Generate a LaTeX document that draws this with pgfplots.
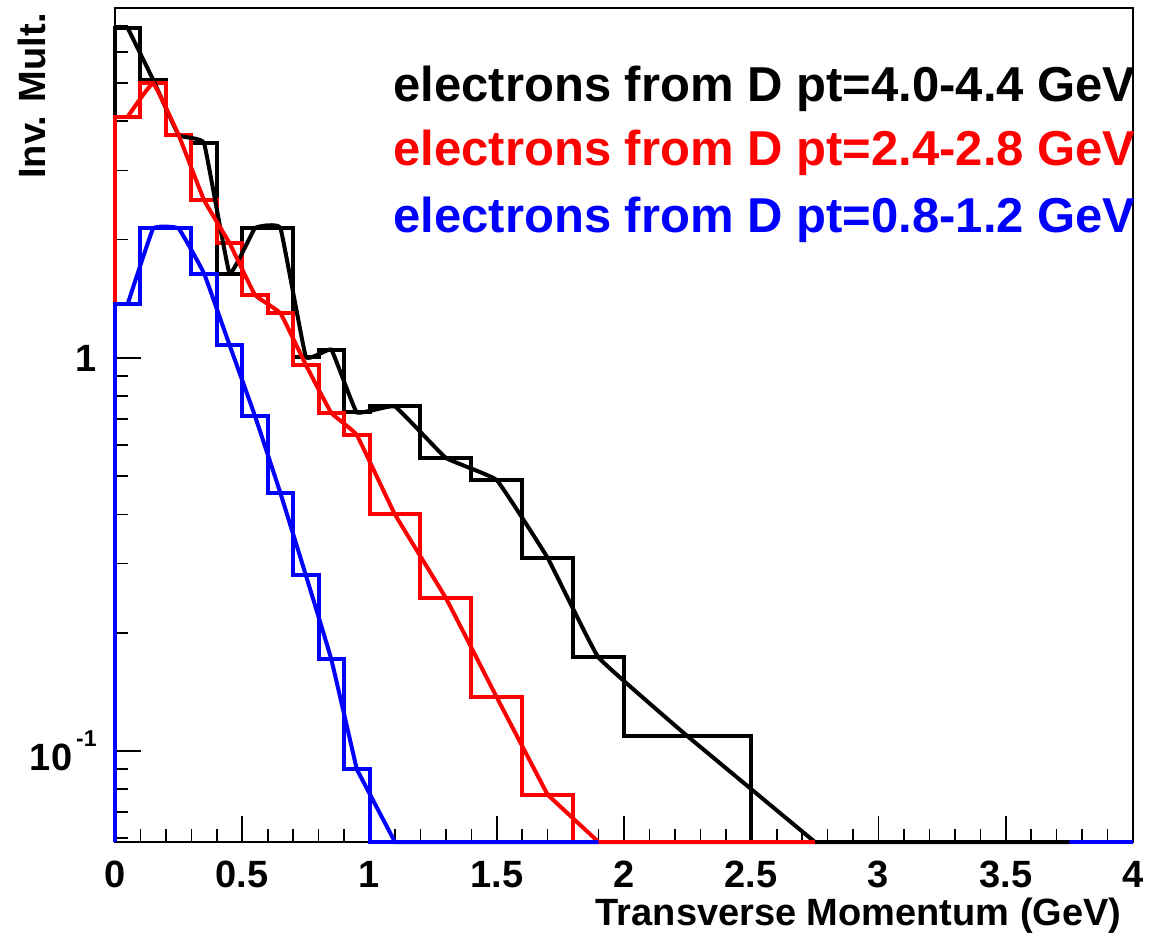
\documentclass[border=0pt]{standalone}
\usepackage{fontspec}
\setmainfont{Liberation Sans}
\usepackage{pgfplots}
\pgfplotsset{compat=1.18}

\definecolor{rootred}{RGB}{255,0,0}
\definecolor{rootblue}{RGB}{0,0,255}

\pgfplotsset{
  hist/.style={const plot mark left, line width=2pt, line join=miter, no marks},
  fit/.style={smooth, tension=0.15, line width=2pt, no marks},
  tail/.style={sharp plot, line width=2pt, no marks},
}

\begin{document}
\begin{tikzpicture}
\useasboundingbox (0,0) rectangle (578pt,467.5pt);
\begin{axis}[
  at={(57.5pt,46.5pt)}, anchor=south west,
  scale only axis, width=509pt, height=417pt,
  xmin=0, xmax=4,
  ymode=log, ymin=0.0587, ymax=7.77,
  clip=false,
  axis line style={line width=1pt},
  tick align=inside, tick pos=left,
  xtick={0,0.5,1,1.5,2,2.5,3,3.5,4},
  xticklabels={0,0.5,1,1.5,2,2.5,3,3.5,4},
  minor x tick num=4,
  ytick={0.1,1},
  yticklabels={10\hspace{2pt}\raisebox{12pt}{\fontsize{11.5}{11.5}\selectfont -1},1\hspace{4.5pt}},
  minor ytick={0.06,0.07,0.08,0.09,0.2,0.3,0.4,0.5,0.6,0.7,0.8,0.9,2,3,4,5,6,7},
  major tick length=13pt, minor tick length=6.5pt,
  every tick/.style={black, line width=0.8pt},
  xticklabel style={font=\fontsize{19}{19}\selectfont\bfseries, anchor=base, inner sep=0pt, yshift=-22.5pt},
  yticklabel style={font=\fontsize{19}{19}\selectfont\bfseries, anchor=east, inner sep=0pt, xshift=-9pt},
]

% histograms: bin left edges, last point closes the final bin
\addplot[hist, black] coordinates {
  (0,0.0587) (0,6.91) (0.1,5.1) (0.2,3.69) (0.3,3.52) (0.4,1.64)
  (0.5,2.14) (0.7,1.006) (0.8,1.05) (0.9,0.727) (1.0,0.753)
  (1.2,0.557) (1.4,0.489) (1.6,0.31) (1.8,0.173) (2.0,0.109)
  (2.5,0.0587) (4.0,0.0587)};
\addplot[hist, rootred] coordinates {
  (0,0.0587) (0,4.11) (0.1,5.0) (0.2,3.69) (0.3,2.52) (0.4,1.96)
  (0.5,1.447) (0.6,1.30) (0.7,0.96) (0.8,0.725) (0.9,0.637)
  (1.0,0.40) (1.2,0.245) (1.4,0.137) (1.6,0.0774)
  (1.8,0.0587) (4.0,0.0587)};
\addplot[hist, rootblue] coordinates {
  (0,0.0587) (0,1.372) (0.1,2.135) (0.3,1.64) (0.4,1.079)
  (0.5,0.712) (0.6,0.453) (0.7,0.280) (0.8,0.171) (0.9,0.0899)
  (1.0,0.0587) (4.0,0.0587)};

% smooth curves through the bin centres
\addplot[fit, black] coordinates {
  (0.05,6.91) (0.15,5.1) (0.25,3.69) (0.35,3.52) (0.45,1.64)
  (0.55,2.14) (0.65,2.14) (0.75,1.006) (0.85,1.05) (0.95,0.727)
  (1.1,0.753) (1.3,0.557) (1.5,0.489) (1.7,0.31) (1.9,0.173) (2.25,0.109)};
\addplot[tail, black] coordinates {(2.25,0.109) (2.75,0.0587) (3.75,0.0587)};

\addplot[fit, rootred] coordinates {
  (0.05,4.11) (0.15,5.0) (0.25,3.69) (0.35,2.52) (0.45,1.96)
  (0.55,1.447) (0.65,1.30) (0.75,0.96) (0.85,0.725) (0.95,0.637)
  (1.1,0.40) (1.3,0.245) (1.5,0.137) (1.7,0.0774)};
\addplot[tail, rootred] coordinates {(1.7,0.0774) (1.9,0.0587) (2.75,0.0587)};

\addplot[fit, rootblue] coordinates {
  (0.05,1.372) (0.15,2.135) (0.25,2.135) (0.35,1.64) (0.45,1.079)
  (0.55,0.712) (0.65,0.453) (0.75,0.280) (0.85,0.171) (0.95,0.0899)};
\addplot[tail, rootblue] coordinates {(0.95,0.0899) (1.1,0.0587) (1.9,0.0587)};
\end{axis}

% legend lines
\node[anchor=base east, inner sep=0pt, font=\fontsize{24.5}{24.5}\selectfont\bfseries, text=black]
  at (568pt,416.5pt) {electrons from D pt=4.0-4.4 GeV};
\node[anchor=base east, inner sep=0pt, font=\fontsize{24.5}{24.5}\selectfont\bfseries, text=rootred]
  at (568pt,384.5pt) {electrons from D pt=2.4-2.8 GeV};
\node[anchor=base east, inner sep=0pt, font=\fontsize{24.5}{24.5}\selectfont\bfseries, text=rootblue]
  at (568pt,351pt) {electrons from D pt=0.8-1.2 GeV};

% axis titles
\node[anchor=base east, inner sep=0pt, font=\fontsize{19}{19}\selectfont\bfseries]
  at (561pt,4.5pt) {Transverse Momentum (GeV)};
\node[anchor=base east, inner sep=0pt, rotate=90, font=\fontsize{19}{19}\selectfont\bfseries]
  at (22.5pt,461pt) {Inv. Mult.};
\end{tikzpicture}
\end{document}
